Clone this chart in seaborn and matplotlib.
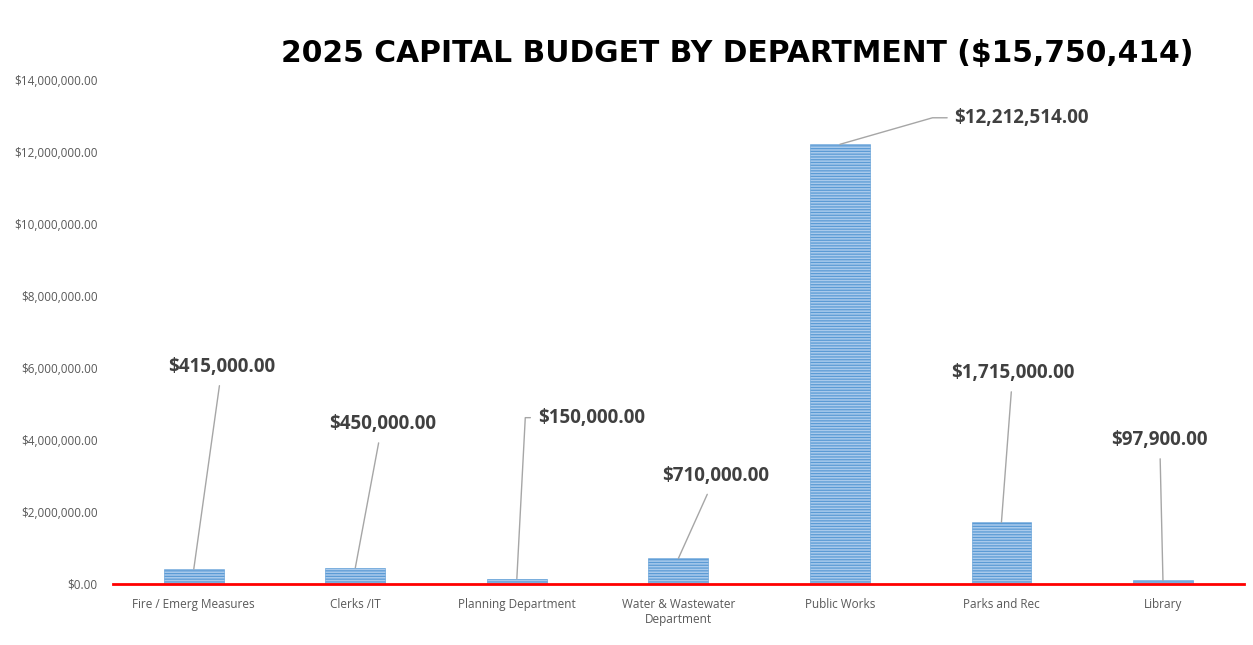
import numpy as np
import pandas as pd
import seaborn as sns
import matplotlib
matplotlib.use("Agg")
import matplotlib.pyplot as plt

departments = ["Fire / Emerg Measures", "Clerks /IT", "Planning Department",
               "Water & Wastewater\nDepartment", "Public Works", "Parks and Rec", "Library"]
amounts = [415000.00, 450000.00, 150000.00, 710000.00, 12212514.00, 1715000.00, 97900.00]
y_ticks = [0, 2000000, 4000000, 6000000, 8000000, 10000000, 12000000, 14000000]

# where each data label sits (x in category units, y in dollars)
label_pos = [(0.175, 6.03e6), (1.166, 4.44e6), (2.13, 4.62e6), (3.23, 3.0e6),
             (4.71, 12.95e6), (5.07, 5.86e6), (5.98, 4.0e6)]
# angle of leader arriving at the bar for the elbow labels (None = straight line)
elbow_angle = [None, None, 87, None, 16, None, None]

sns.set_theme(style="white")
plt.rcParams['font.family'] = ['Open Sans', 'DejaVu Sans']
plt.rcParams['hatch.linewidth'] = 0.9

df = pd.DataFrame({"dept": departments, "amount": amounts})

fig = plt.figure(figsize=(12.53, 6.45), dpi=100)
ax = fig.add_axes([0.0902, 0.0946, 0.9024, 0.7814])

sns.barplot(data=df, x="dept", y="amount", color="#A9CAEC", width=0.37,
            saturation=1, ax=ax)
for p in ax.patches:
    p.set_hatch("------")
    p.set_edgecolor("#5B9BD5")
    p.set_linewidth(0.4)

ax.set_xlim(-0.5, 6.5)
ax.set_ylim(0, 14000000)
ax.set_yticks(y_ticks)
ax.set_yticklabels(["${:,.2f}".format(v) for v in y_ticks], fontsize=8.5, color="#595959")
ax.tick_params(axis="y", length=0, pad=11)
ax.tick_params(axis="x", length=0, pad=10, labelsize=8.5, labelcolor="#595959")
ax.set_xlabel("")
ax.set_ylabel("")
for s in ["top", "right", "left"]:
    ax.spines[s].set_visible(False)
ax.spines["bottom"].set_color("#FF0000")
ax.spines["bottom"].set_linewidth(2)
ax.spines["bottom"].set_zorder(5)

for i, (v, (lx, ly), ang) in enumerate(zip(amounts, label_pos, elbow_angle)):
    txt = "${:,.2f}".format(v)
    if ang is not None:
        ax.annotate(txt, xy=(i, v), xytext=(lx, ly), ha="left", va="center",
                    fontsize=13.5, fontweight="bold", color="#404040",
                    arrowprops=dict(arrowstyle="-", color="#A6A6A6", lw=1,
                                    shrinkA=3, shrinkB=0, relpos=(0, 0.5),
                                    connectionstyle="angle,angleA=0,angleB=%d,rad=0" % ang))
    else:
        ax.annotate(txt, xy=(i, v), xytext=(lx, ly), ha="center", va="center",
                    fontsize=13.5, fontweight="bold", color="#404040",
                    arrowprops=dict(arrowstyle="-", color="#A6A6A6", lw=1,
                                    shrinkA=4, shrinkB=0))

fig.text(0.588, 0.917, "2025 CAPITAL BUDGET BY DEPARTMENT ($15,750,414)",
         ha="center", va="center", fontsize=21.4, fontweight="bold", color="#000000",
         family="DejaVu Sans")

fig.savefig("out.png", dpi=100)
